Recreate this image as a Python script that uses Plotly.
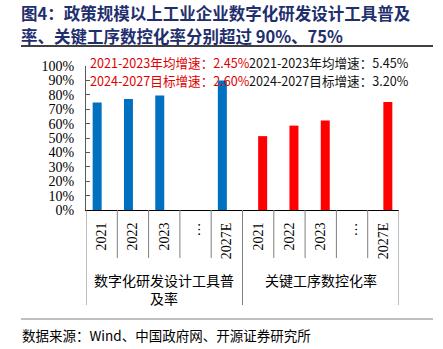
import plotly.graph_objects as go

# ---- data ----
groups = ["数字化研发设计工具普<br>及率", "关键工序数控化率"]
years = ["2021", "2022", "2023", "…", "2027E"]
digital_rd_tool = [0.747, 0.770, 0.796, None, 0.900]   # 数字化研发设计工具普及率
key_process_cnc = [0.513, 0.586, 0.622, None, 0.750]   # 关键工序数控化率
notes_red = ["2021-2023年均增速：2.45%", "2024-2027目标增速：2.60%"]
notes_black = ["2021-2023年均增速：5.45%", "2024-2027目标增速：3.20%"]
title_lines = ["图4：政策规模以上工业企业数字化研发设计工具普及",
               "率、关键工序数控化率分别超过 90%、75%"]
source = "数据来源：Wind、中国政府网、开源证券研究所"

W, H = 443, 349
L, R, T, B = 86, 44, 66, 139
PW, PH = W - L - R, H - T - B

def fx(p):
    return (p - L) / PW

def fy(p):
    return (H - B - p) / PH

n = len(years)
xs = list(range(2 * n))
ticktext = years + years

blue_y = digital_rd_tool + [None] * n
red_y = [None] * n + key_process_cnc

fig = go.Figure()
fig.add_trace(go.Bar(x=xs, y=blue_y, marker=dict(color="#0070C0", line=dict(width=0)),
                     name="数字化研发设计工具普及率"))
fig.add_trace(go.Bar(x=xs, y=red_y, marker=dict(color="#FF0000", line=dict(width=0)),
                     name="关键工序数控化率"))

cjk = "Noto Sans CJK SC"
serif = "Liberation Serif"

fig.update_layout(
    width=W, height=H,
    margin=dict(l=L, r=R, t=T, b=B, pad=0),
    paper_bgcolor="white", plot_bgcolor="white",
    barmode="group", bargap=0.425, bargroupgap=0,
    showlegend=False,
    xaxis=dict(range=[-0.5, 2 * n - 0.5], tickmode="array", tickvals=xs, ticktext=ticktext,
               tickangle=-90, ticks="", showline=True, linecolor="#000000", linewidth=1,
               showgrid=False, zeroline=False, ticklabelstandoff=6,
               tickfont=dict(family=serif, size=14, color="#000000")),
    yaxis=dict(range=[0, 1], dtick=0.1, tickformat=".0%", ticks="inside", ticklen=4,
               tickcolor="#595959", showline=True, linecolor="#595959", linewidth=1,
               showgrid=False, zeroline=False, ticklabelstandoff=8,
               tickfont=dict(family=serif, size=14, color="#000000")),
)

shapes = []
# divider lines below the category axis
for i in range(2 * n + 1):
    xv = i - 0.5
    long = (i % n == 0)
    shapes.append(dict(type="line", xref="x", yref="paper", x0=xv, x1=xv,
                       y0=0, y1=fy(305) if long else fy(258),
                       line=dict(color="#7F7F7F", width=1)))
# title rule and footer rule
shapes.append(dict(type="line", xref="paper", yref="paper", x0=fx(21), x1=fx(433),
                   y0=fy(46), y1=fy(46), line=dict(color="#000000", width=1.5)))
shapes.append(dict(type="line", xref="paper", yref="paper", x0=fx(21), x1=fx(433),
                   y0=fy(319), y1=fy(319), line=dict(color="#808080", width=1)))
fig.update_layout(shapes=shapes)

ann = []
for k, line in enumerate(title_lines):
    ann.append(dict(text="<b>" + line + "</b>", xref="paper", yref="paper",
                    x=fx(20), y=fy(12.5 + 23.5 * k), xanchor="left", yanchor="middle",
                    showarrow=False, borderpad=0,
                    font=dict(family=cjk, size=16.5, color="#1F2F6E")))
for k in range(2):
    ann.append(dict(text=notes_red[k], xref="paper", yref="paper", x=fx(88), y=fy(62 + 18 * k),
                    xanchor="left", yanchor="middle", showarrow=False,
                    font=dict(family=cjk, size=12.6, color="#E00000")))
    ann.append(dict(text=notes_black[k], xref="paper", yref="paper", x=fx(247), y=fy(62 + 18 * k),
                    xanchor="left", yanchor="middle", showarrow=False,
                    font=dict(family=cjk, size=12.6, color="#111111")))
# group labels
for g, lab in enumerate(groups):
    ann.append(dict(text=lab, xref="x", yref="paper", x=g * n + (n - 1) / 2, y=fy(268),
                    xanchor="center", yanchor="top", showarrow=False, align="center",
                    font=dict(family=cjk, size=14, color="#000000")))
ann.append(dict(text=source, xref="paper", yref="paper", x=fx(20), y=fy(335),
                xanchor="left", yanchor="middle", showarrow=False,
                font=dict(family=cjk, size=13.5, color="#000000")))
fig.update_layout(annotations=ann)

fig.write_html("out.html")
